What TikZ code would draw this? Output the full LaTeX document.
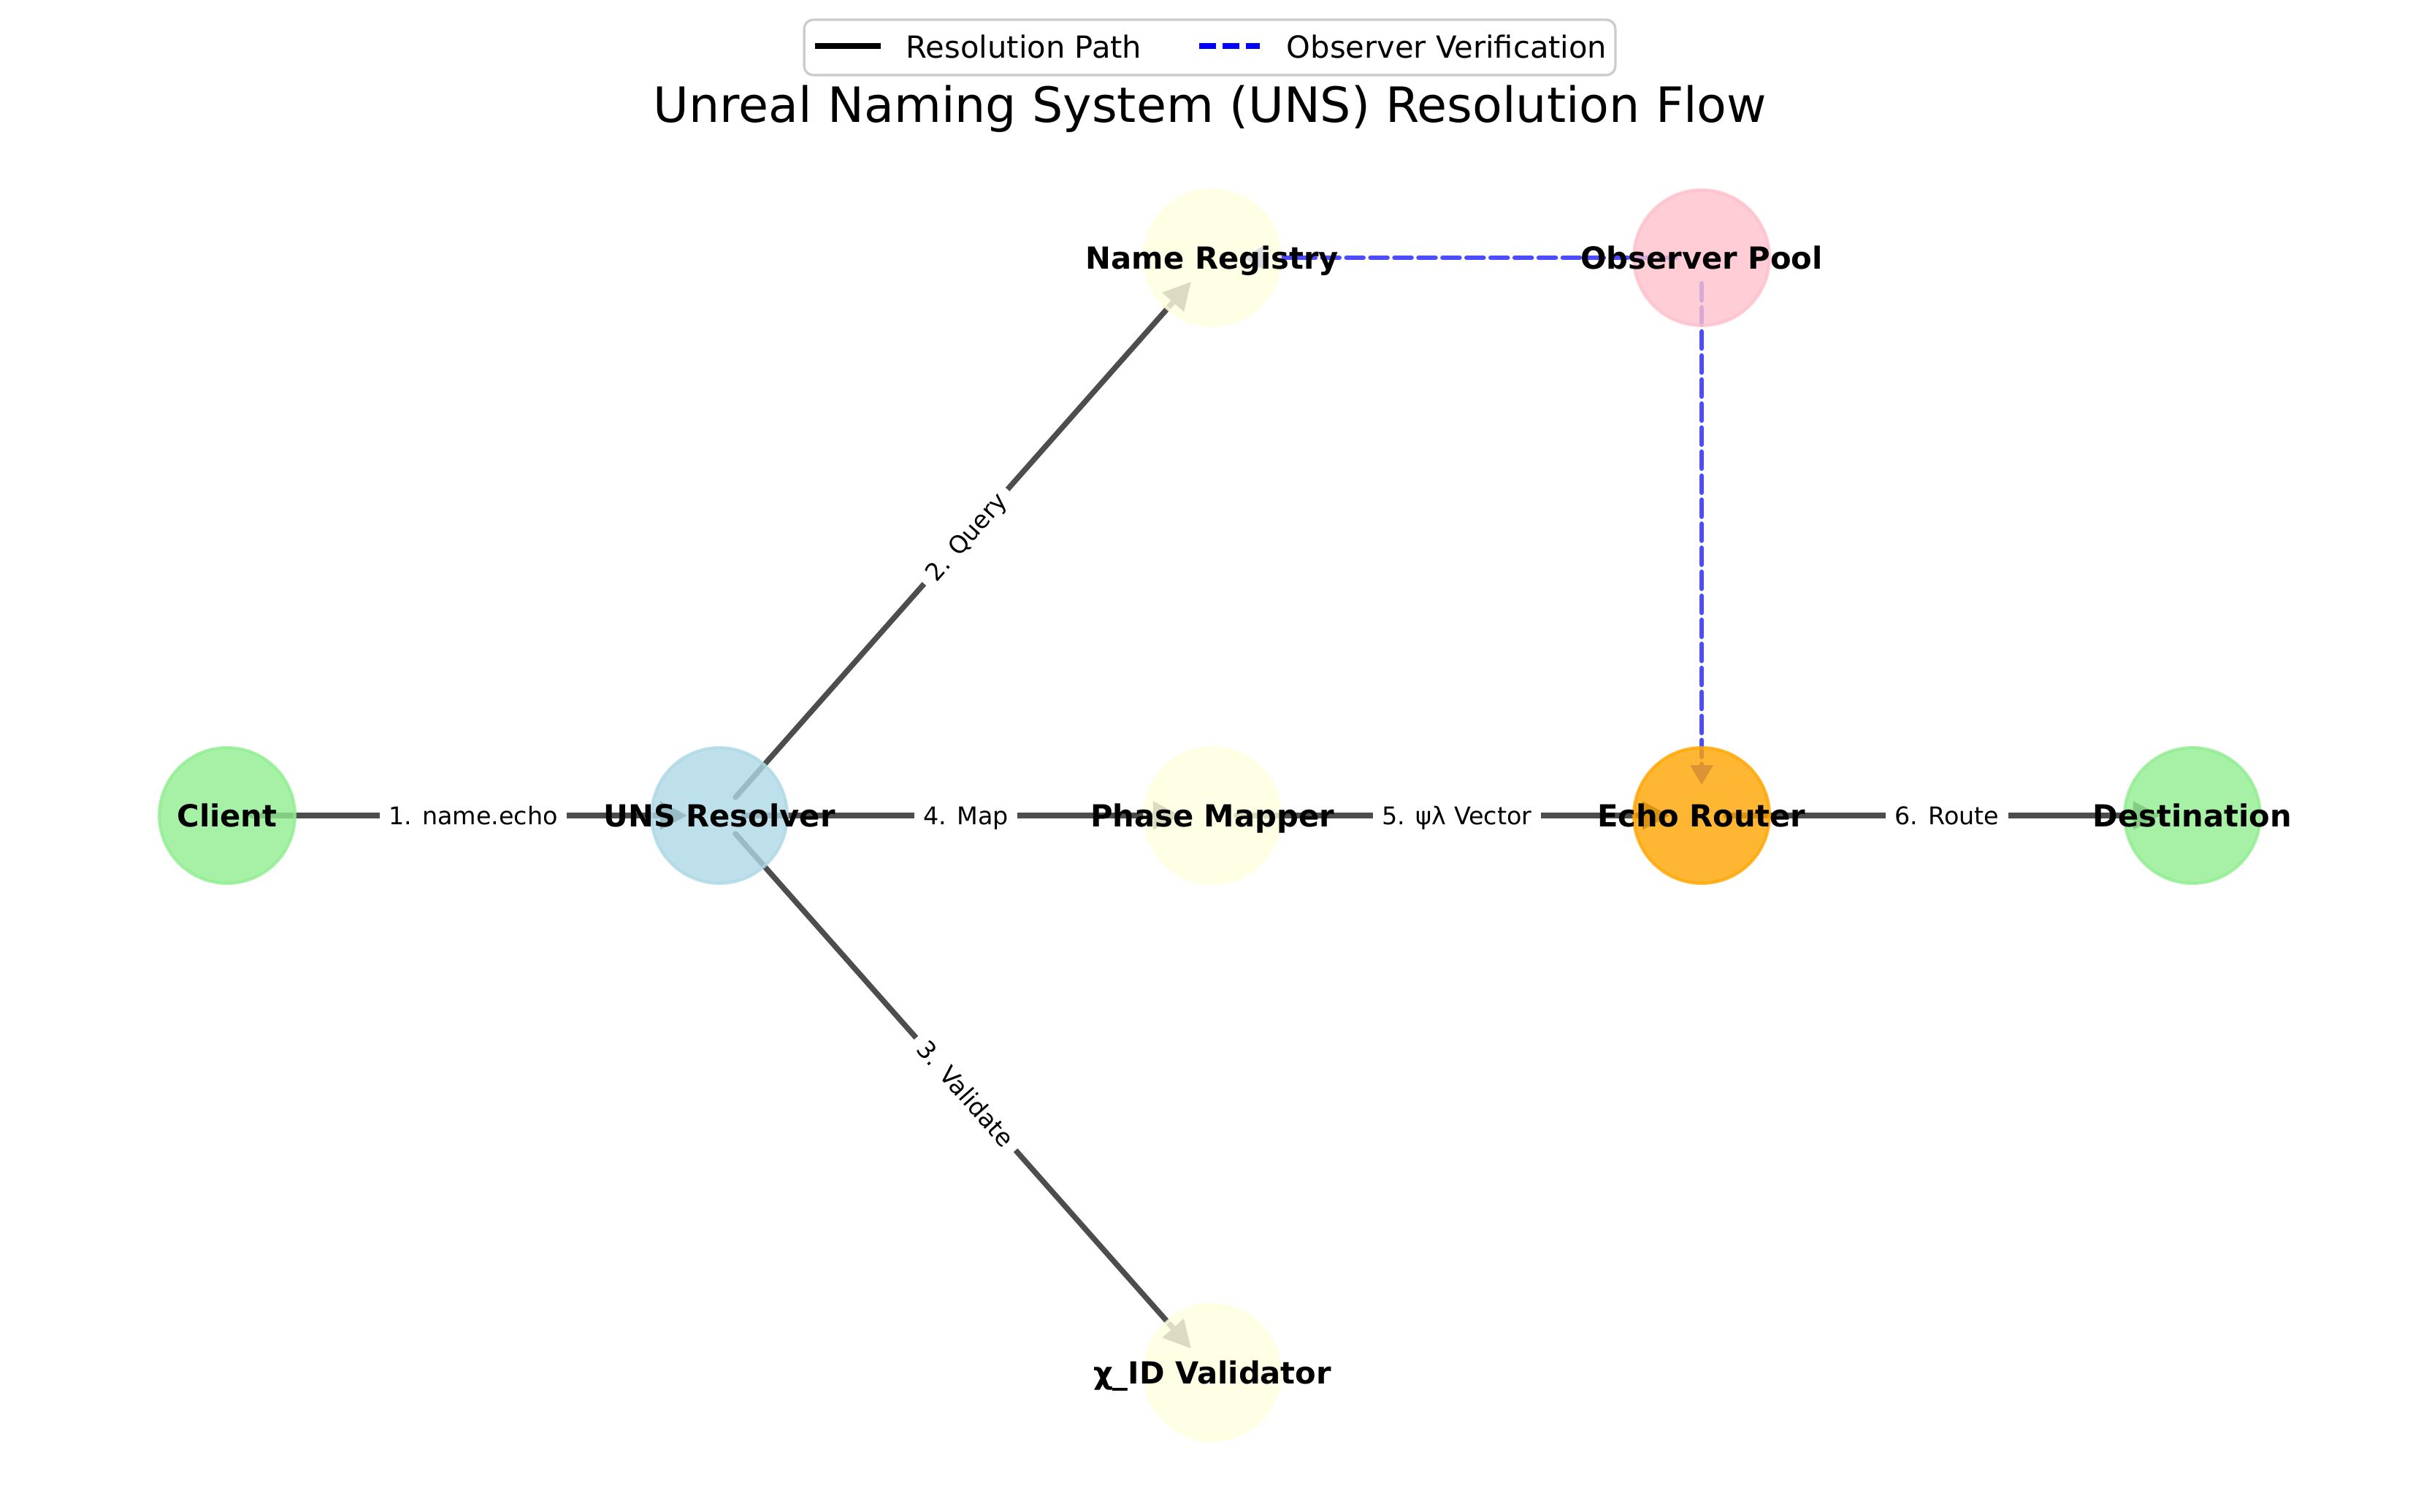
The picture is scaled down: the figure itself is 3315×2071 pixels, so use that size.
\documentclass[tikz,border=0pt]{standalone}
\usepackage{fontspec}
\setmainfont{DejaVu Sans}
\usetikzlibrary{arrows.meta}
\pgfdeclarelayer{bg}
\pgfsetlayers{bg,main}
\definecolor{lgreen}{HTML}{90EE90}
\definecolor{lblue}{HTML}{ADD8E6}
\definecolor{lyellow}{HTML}{FFFFE0}
\definecolor{lpink}{HTML}{FFC0CB}
\definecolor{lorange}{HTML}{FFA500}
\definecolor{legendgray}{HTML}{CCCCCC}
\definecolor{edgegray}{HTML}{4D4D4D}
\definecolor{edgeblue}{HTML}{4D4DFF}
\begin{document}
\begin{tikzpicture}[x=0.24pt,y=-0.24pt,
  circ/.style={circle, minimum size=44.6pt, inner sep=0pt, fill=#1, draw=#1,
    fill opacity=0.8, draw opacity=0.8, line width=1pt},
  ntext/.style={font=\bfseries\fontsize{10}{12}\selectfont, inner sep=0pt,
    text height=9.5pt, text depth=2.2pt, text=black},
  edgeline/.style={draw=edgegray, line width=1.8pt, line cap=round,
    shorten <=8pt, shorten >=10.5pt, -{Triangle[length=9pt,width=9pt]}},
  dashline/.style={draw=edgeblue, line width=1.6pt, line cap=round,
    dash pattern=on 5.5pt off 2.4pt,
    shorten <=8.5pt, shorten >=10pt, -{Triangle[length=6.5pt,width=7pt]}},
  elab/.style={fill=white, inner sep=3pt, text=black,
    font=\fontsize{8}{9.6}\selectfont, text height=7.5pt, text depth=1.7pt},
  legtext/.style={font=\fontsize{10}{12}\selectfont, inner sep=0pt, anchor=base west, text=black}
]
\useasboundingbox (0,0) rectangle (3315,2071);

% nodes (circles)
\node[circ=lgreen]  (client) at (311,1117) {};
\node[circ=lblue]   (uns)    at (985,1117) {};
\node[circ=lyellow] (reg)    at (1660,353) {};
\node[circ=lyellow] (map)    at (1660,1117) {};
\node[circ=lyellow] (val)    at (1660,1880) {};
\node[circ=lpink]   (obs)    at (2330,353) {};
\node[circ=lorange] (echo)   at (2330,1117) {};
\node[circ=lgreen]  (dest)   at (3002,1117) {};

% node labels
\node[ntext] (client-t) at (client) {Client};
\node[ntext] (uns-t)    at (uns)    {UNS Resolver};
\node[ntext] (reg-t)    at (reg)    {Name Registry};
\node[ntext] (map-t)    at (map)    {Phase Mapper};
\node[ntext] (val-t)    at (val)    {χ\_ID Validator};
\node[ntext] (obs-t)    at (obs)    {Observer Pool};
\node[ntext] (echo-t)   at (echo)   {Echo Router};
\node[ntext] (dest-t)   at (dest)   {Destination};

% connectors
\begin{pgfonlayer}{bg}
\draw[edgeline] (client.center) -- node[elab] (e1) {1. name.echo} (uns.center);
\draw[edgeline] (uns.center) -- node[elab, sloped] (e2) {2. Query} (reg.center);
\draw[edgeline] (uns.center) -- node[elab, sloped] (e3) {3. Validate} (val.center);
\draw[edgeline] (uns.center) -- node[elab] (e4) {4. Map} (map.center);
\draw[edgeline] (map.center) -- node[elab] (e5) {5. ψλ Vector} (echo.center);
\draw[edgeline] (echo.center) -- node[elab] (e6) {6. Route} (dest.center);
\draw[dashline] (obs.center) -- (reg.center);
\draw[dashline] (obs.center) -- (echo.center);
\end{pgfonlayer}

% title
\node[font=\fontsize{16}{19}\selectfont, anchor=base, inner sep=0pt] (title) at (1657,168)
  {Unreal Naming System (UNS) Resolution Flow};

% legend
\node[draw=legendgray, fill=white, fill opacity=0.8, line width=0.8pt, rounded corners=3pt,
  minimum width=266.6pt, minimum height=18.2pt, inner sep=0pt] (legend) at (1656.5,65) {};
\coordinate (l1a) at (1116,63);
\coordinate (l1b) at (1206,63);
\coordinate (l2a) at (1642,63);
\coordinate (l2b) at (1725,63);
\draw[black, line width=2pt] (l1a) -- (l1b);
\draw[blue, line width=2pt, dash pattern=on 5.5pt off 2.2pt] (l2a) -- (l2b);
\node[legtext] (l1t) at (1240,80) {Resolution Path};
\node[legtext] (l2t) at (1761,80) {Observer Verification};
\end{tikzpicture}
\end{document}
